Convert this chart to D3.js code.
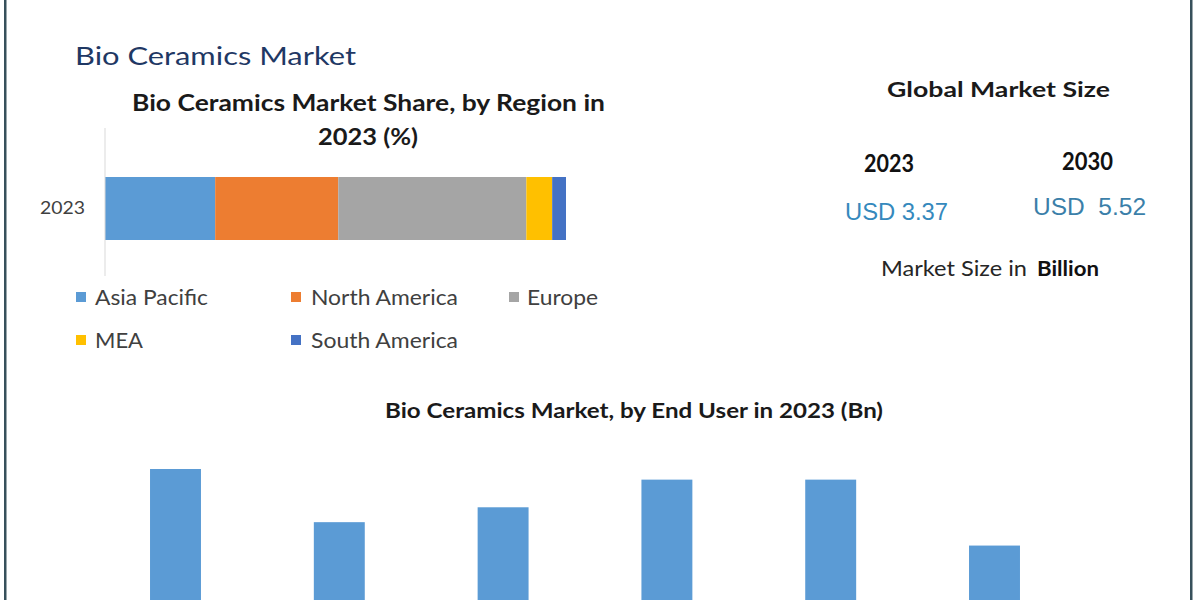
<!DOCTYPE html>
<html>
<head>
<meta charset="utf-8">
<script src="https://cdn.jsdelivr.net/npm/d3@7"></script>
<style>
  html, body { margin: 0; padding: 0; background: #ffffff; }
  svg { display: block; }
  text { white-space: pre; }
</style>
</head>
<body>
<script>
// ---- Data ----
const regionYears = ["2023"];
const regions = ["Asia Pacific", "North America", "Europe", "MEA", "South America"];
const regionShares = [23.9, 26.7, 40.8, 5.6, 3.0];
const regionColors = ["#5b9bd5", "#ed7d31", "#a5a5a5", "#ffc000", "#4472c4"];

const endUsers = ["Hospitals", "Ambulatory Surgical Centers", "Dental Clinics", "Orthopedic Clinics", "Research Institutes", "Others"];
const endUserValues = [0.71, 0.46, 0.53, 0.66, 0.66, 0.35];

const sizeYears = ["2023", "2030"];
const sizeLabels = ["USD 3.37", "USD  5.52"];

// ---- Setup ----
const W = 1200, H = 600;
const svg = d3.select("body").append("svg").attr("width", W).attr("height", H)
  .style("overflow", "hidden");
svg.append("rect").attr("width", W).attr("height", H).attr("fill", "#ffffff");

const CAL = "Lato, 'Open Sans', sans-serif";
const ARIAL = "'Liberation Sans', Arial, sans-serif";

function txt(x, y, s, size, opts = {}) {
  const t = svg.append("text")
    .attr("x", x).attr("y", y)
    .attr("font-family", opts.family || CAL)
    .attr("font-size", size)
    .attr("font-weight", opts.weight || "normal")
    .attr("fill", opts.fill || "#1a1a1a")
    .attr("text-anchor", opts.anchor || "start")
    .text(s);
  if (opts.len) t.attr("textLength", opts.len).attr("lengthAdjust", "spacingAndGlyphs");
  return t;
}

// Borders
svg.append("rect").attr("x", 4).attr("y", 0).attr("width", 2.5).attr("height", H).attr("fill", "#37505b");
svg.append("rect").attr("x", 1190).attr("y", 0).attr("width", 2.5).attr("height", H).attr("fill", "#37505b");

// Titles
txt(75, 65, "Bio Ceramics Market", 25, { fill: "#1f3864", len: 281 });
txt(132, 111, "Bio Ceramics Market Share, by Region in", 22, { weight: "bold", len: 473 });
txt(318, 145, "2023 (%)", 22, { weight: "bold", len: 100 });

// ---- Stacked bar ----
const x = d3.scaleLinear().domain([0, 100]).range([105, 566]);
const yb = d3.scaleBand().domain(regionYears).range([177, 240]).padding(0);

let cum = 0;
const stacked = regionShares.map((v, i) => { const s = { key: regions[i], x0: cum, x1: cum + v, color: regionColors[i] }; cum += v; return s; });

svg.append("g").selectAll("rect").data(stacked).join("rect")
  .attr("x", d => x(d.x0))
  .attr("width", d => x(d.x1) - x(d.x0))
  .attr("y", yb("2023"))
  .attr("height", yb.bandwidth())
  .attr("fill", d => d.color);

// axis line
svg.append("line").attr("x1", 105).attr("x2", 105).attr("y1", 128).attr("y2", 276)
  .attr("stroke", "#d9d9d9").attr("stroke-width", 1);

const yAxis = svg.append("g").attr("transform", "translate(105,0)")
  .call(d3.axisLeft(yb).tickSize(0).tickPadding(20));
yAxis.select(".domain").remove();
yAxis.selectAll("text").attr("font-family", CAL).attr("font-size", 18).attr("fill", "#404040")
  .attr("textLength", 45).attr("lengthAdjust", "spacingAndGlyphs");

// Legend
const legendPos = [
  { x: 76, y: 305, tx: 95, w: 113 },
  { x: 291, y: 305, tx: 311, w: 147 },
  { x: 509, y: 305, tx: 527, w: 71 },
  { x: 76, y: 348, tx: 95, w: 48 },
  { x: 291, y: 348, tx: 311, w: 147 }
];
regions.forEach((r, i) => {
  const p = legendPos[i];
  svg.append("rect").attr("x", p.x).attr("y", p.y - 13).attr("width", 10).attr("height", 10).attr("fill", regionColors[i]);
  txt(p.tx, p.y, r, 22, { fill: "#404040", len: p.w });
});

// ---- Right panel ----
txt(887, 97, "Global Market Size", 21, { weight: "bold", len: 223 });
const sizePos = [
  { yx: 864, yy: 172, yw: 50, ux: 845, uy: 220, uw: 103, color: "#3589bd" },
  { yx: 1062, yy: 170, yw: 51, ux: 1033, uy: 215, uw: 113, color: "#3b7fa9" }
];
sizeYears.forEach((yr, i) => {
  const p = sizePos[i];
  txt(p.yx, p.yy, yr, 24, { weight: "bold", fill: "#111111", len: p.yw });
  txt(p.ux, p.uy, sizeLabels[i], 24, { family: ARIAL, fill: p.color, len: p.uw });
});
txt(881, 276, "Market Size in", 21, { fill: "#262626", len: 146 });
txt(1037, 276, "Billion", 21, { weight: "bold", fill: "#111111", len: 62 });

// ---- Bottom bar chart ----
txt(385, 418, "Bio Ceramics Market, by End User in 2023 (Bn)", 20, { weight: "bold", len: 498 });

const xb = d3.scaleBand().domain(endUsers).range([93.6, 1076.4]).paddingInner(0.689).paddingOuter(0.3445);
const yv = d3.scaleLinear().domain([0, 0.71]).range([620, 469]);

svg.append("g").selectAll("rect").data(endUserValues).join("rect")
  .attr("x", (d, i) => xb(endUsers[i]))
  .attr("width", xb.bandwidth())
  .attr("y", d => yv(d))
  .attr("height", d => yv(0) - yv(d))
  .attr("fill", "#5b9bd5");
</script>
</body>
</html>
